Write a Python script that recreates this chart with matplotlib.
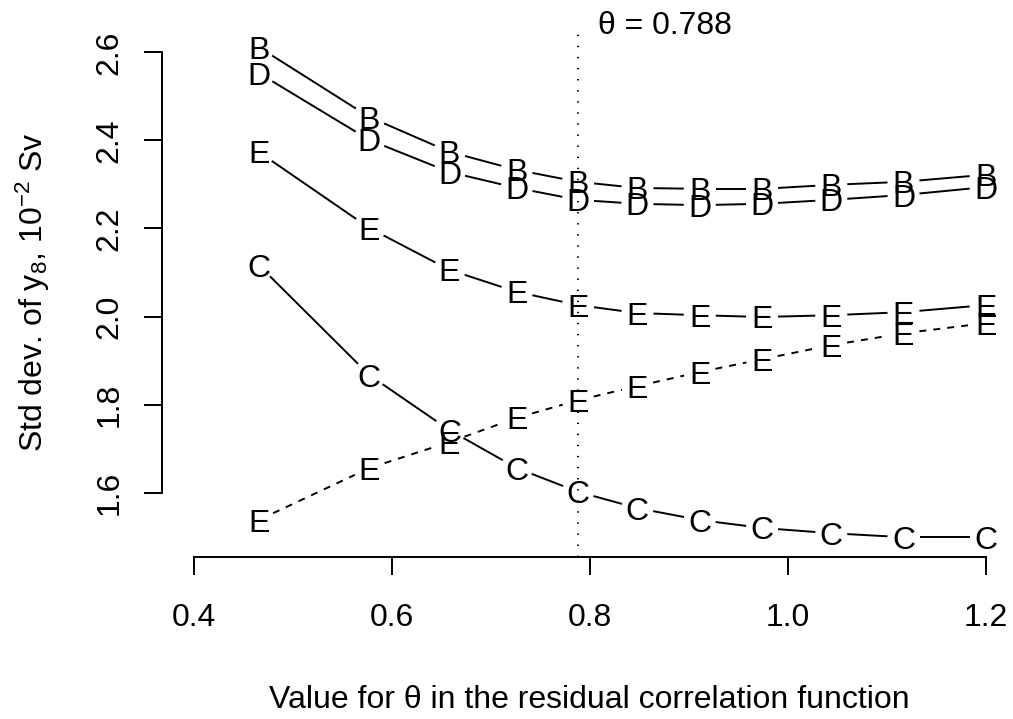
import numpy as np
import matplotlib
matplotlib.use("Agg")
import matplotlib.pyplot as plt

plt.rcParams['font.family'] = ['Liberation Sans', 'DejaVu Sans']
plt.rcParams['mathtext.fontset'] = 'custom'
plt.rcParams['mathtext.rm'] = 'Liberation Sans'
plt.rcParams['mathtext.it'] = 'Liberation Sans:italic'

# values
theta = [0.465, 0.577, 0.658, 0.726, 0.788, 0.848, 0.911, 0.974, 1.044, 1.117, 1.2]
sd_B = [2.612, 2.453, 2.374, 2.333, 2.306, 2.292, 2.290, 2.290, 2.299, 2.306, 2.322]
sd_D = [2.553, 2.401, 2.328, 2.292, 2.265, 2.256, 2.253, 2.256, 2.265, 2.276, 2.294]
sd_E = [2.374, 2.201, 2.106, 2.056, 2.026, 2.008, 2.003, 1.999, 2.003, 2.010, 2.026]
sd_E2 = [1.538, 1.656, 1.715, 1.770, 1.810, 1.842, 1.874, 1.903, 1.935, 1.962, 1.985]
sd_C = [2.117, 1.867, 1.742, 1.656, 1.602, 1.565, 1.538, 1.520, 1.508, 1.499, 1.499]
theta_hat = 0.788

fs = 23
lw = 1.4

fig = plt.figure(figsize=(10.13, 7.19), dpi=100)
ax = fig.add_axes([0.1596, 0.2253, 0.8404, 0.7371])
ax.set_xlim(0.367, 1.2277)
ax.set_ylim(1.454, 2.6574)


def type_b(xs, ys, letter, ls='-', gap=16):
    # letters as points, with line segments stopping short of them (like R type="b")
    pts = ax.transData.transform(np.column_stack([xs, ys]))
    inv = ax.transData.inverted()
    for p0, p1 in zip(pts[:-1], pts[1:]):
        d = p1 - p0
        L = np.hypot(d[0], d[1])
        if L <= 2 * gap:
            continue
        u = d / L
        seg = inv.transform(np.array([p0 + u * gap, p1 - u * gap]))
        ax.plot(seg[:, 0], seg[:, 1], color='black', lw=lw, ls=ls,
                solid_capstyle='butt', dash_capstyle='butt')
    for x, y in zip(xs, ys):
        ax.text(x, y, letter, ha='center', va='center_baseline', fontsize=fs)


type_b(theta, sd_B, 'B')
type_b(theta, sd_D, 'D')
type_b(theta, sd_E, 'E')
type_b(theta, sd_E2, 'E', ls=(0, (3.6, 3.6)))
type_b(theta, sd_C, 'C')

ax.axvline(theta_hat, color='black', lw=lw, ls=(0, (0.7, 5.0)))
ax.annotate('θ = 0.788', xy=(theta_hat, 1), xycoords=('data', 'axes fraction'),
            xytext=(14, 3), textcoords='offset points', ha='left', va='center_baseline',
            fontsize=fs, annotation_clip=False)

for s in ['top', 'right']:
    ax.spines[s].set_visible(False)
ax.spines['left'].set_bounds(1.6, 2.6)
ax.spines['bottom'].set_bounds(0.4, 1.2)
ax.spines['left'].set_linewidth(lw)
ax.spines['bottom'].set_linewidth(lw)

ax.set_xticks([0.4, 0.6, 0.8, 1.0, 1.2])
ax.set_xticklabels(['0.4', '0.6', '0.8', '1.0', '1.2'])
ax.set_yticks([1.6, 1.8, 2.0, 2.2, 2.4, 2.6])
ax.set_yticklabels(['1.6', '1.8', '2.0', '2.2', '2.4', '2.6'], rotation=90, va='center')
ax.tick_params(axis='both', length=13, width=lw, labelsize=fs)
ax.tick_params(axis='x', pad=20)
ax.tick_params(axis='y', pad=14)

fig.text(0.5819, 1 - 697 / 719, 'Value for θ in the residual correlation function',
         ha='center', va='center_baseline', fontsize=fs)
fig.text(33 / 1013, 1 - 292 / 719,
         r'Std dev. of y$_{\mathrm{8}}$, 10$^{\mathrm{-2}}$ Sv',
         ha='center', va='center', rotation=90, fontsize=fs)

fig.savefig('out.png', dpi=100)
